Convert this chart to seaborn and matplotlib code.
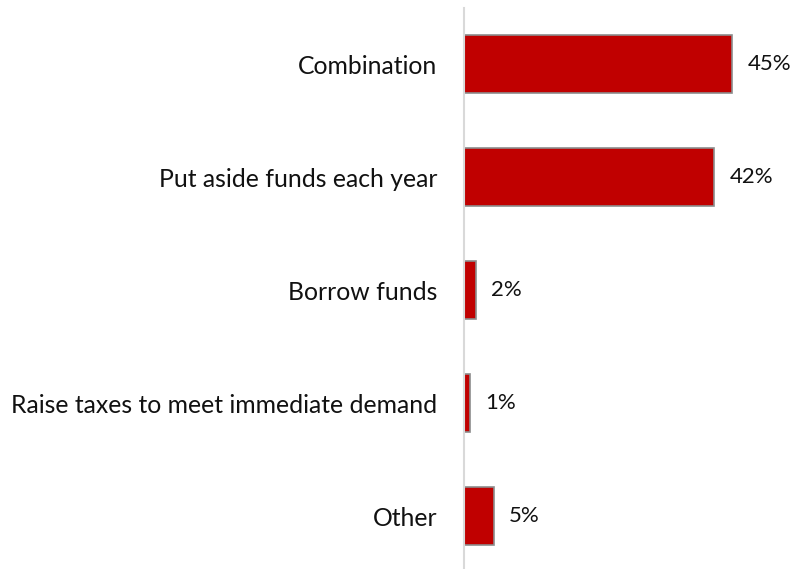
import matplotlib
matplotlib.use("Agg")
import matplotlib.pyplot as plt
import seaborn as sns
import pandas as pd

categories = [
    "Combination",
    "Put aside funds each year",
    "Borrow funds",
    "Raise taxes to meet immediate demand",
    "Other",
]
values = [45, 42, 2, 1, 5]

df = pd.DataFrame({"category": categories, "value": values})

sns.set_theme(style="white")
plt.rcParams["font.family"] = ["Lato", "DejaVu Sans"]

W, H = 796, 569
fig = plt.figure(figsize=(W / 100, H / 100), dpi=100)
ax = fig.add_axes([464 / W, 0, 298 / W, 561 / H])

sns.barplot(
    data=df, x="value", y="category", orient="h",
    color="#C00000", edgecolor="#8C8C8C", linewidth=1.2,
    width=0.51, saturation=1, ax=ax,
)

ax.set_xlim(0, 50)
ax.set_ylim(4.469, -0.496)

for i, v in enumerate(values):
    ax.annotate(f"{v}%", xy=(v, i), xytext=(11, 0), textcoords="offset points",
                ha="left", va="center", fontsize=16, color="#111111")

ax.set_xlabel("")
ax.set_ylabel("")
ax.set_xticks([])
ax.tick_params(axis="y", length=0, pad=19, labelsize=17.8, labelcolor="#111111")
for s in ["top", "right", "bottom"]:
    ax.spines[s].set_visible(False)
ax.spines["left"].set_color("#D9D9D9")
ax.spines["left"].set_linewidth(1.5)

fig.savefig("out.png", dpi=100)
